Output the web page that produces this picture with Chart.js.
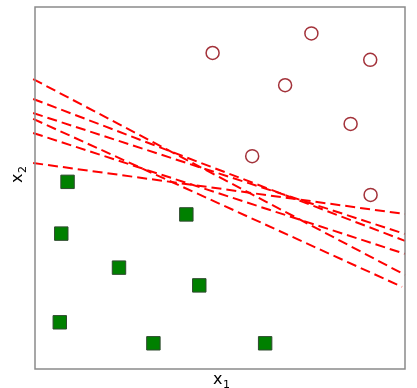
<!DOCTYPE html>
<html>
<head>
<meta charset="utf-8">
<script src="https://cdn.jsdelivr.net/npm/chart.js@4.4.1/dist/chart.umd.min.js"></script>
<style>
  html, body { margin: 0; padding: 0; background: #fff; }
  #wrap { width: 417px; height: 388px; }
</style>
</head>
<body>
<div id="wrap"><canvas id="chart"></canvas></div>
<script>
// class +1 (open circles)
const circleX = [7.47, 4.80, 9.06, 6.76, 8.53, 5.87, 9.07];
const circleY = [9.27, 8.73, 8.54, 7.84, 6.77, 5.88, 4.81];

// class -1 (filled squares)
const squareX = [0.88, 4.09, 0.71, 2.27, 4.44, 0.67, 3.20, 6.22];
const squareY = [5.17, 4.27, 3.74, 2.80, 2.31, 1.29, 0.71, 0.71];

// candidate separating lines, from left edge to right edge
const lineLeftX = [-0.05, -0.05, -0.05, -0.05, -0.05, -0.05];
const lineLeftY = [8.01, 7.46, 7.07, 6.91, 6.52, 5.69];
const lineRightX = [10, 10, 10, 9.92, 10, 10];
const lineRightY = [2.60, 3.54, 3.73, 2.27, 3.18, 4.28];

const xTitle = ["x", "1"];
const yTitle = ["x", "2"];

const lineSets = lineLeftY.map((y0, i) => ({
  type: "line",
  data: [{ x: lineLeftX[i], y: y0 }, { x: lineRightX[i], y: lineRightY[i] }],
  borderColor: "#ff0000",
  borderWidth: 2,
  borderDash: [10, 5],
  pointRadius: 0,
  fill: false,
  clip: false
}));

// frame + axis titles
const framePlugin = {
  id: "frame",
  afterDatasetsDraw(chart) {
    const { ctx, chartArea: a } = chart;
    ctx.save();
    ctx.strokeStyle = "#8a8a8a";
    ctx.lineWidth = 1.5;
    ctx.strokeRect(a.left, a.top, a.right - a.left, a.bottom - a.top);

    ctx.fillStyle = "#000";
    ctx.textBaseline = "alphabetic";
    // x1
    let cx = (a.left + a.right) / 2;
    ctx.font = "16px 'DejaVu Sans'";
    ctx.fillText(xTitle[0], cx - 7, 384);
    ctx.font = "11px 'DejaVu Sans'";
    ctx.fillText(xTitle[1], cx + 3, 388);
    // x2 rotated
    ctx.translate(22, 176);
    ctx.rotate(-Math.PI / 2);
    ctx.font = "16px 'DejaVu Sans'";
    ctx.fillText(yTitle[0], -7, 0);
    ctx.font = "11px 'DejaVu Sans'";
    ctx.fillText(yTitle[1], 3, 4);
    ctx.restore();
  }
};

new Chart(document.getElementById("chart"), {
  type: "scatter",
  data: {
    datasets: [
      ...lineSets,
      {
        data: circleX.map((x, i) => ({ x, y: circleY[i] })),
        pointStyle: "circle",
        pointRadius: 6.5,
        pointBorderWidth: 1.5,
        pointBorderColor: "#a3323a",
        pointBackgroundColor: "rgba(255,255,255,0)"
      },
      {
        data: squareX.map((x, i) => ({ x, y: squareY[i] })),
        pointStyle: "rect",
        pointRadius: 9.5,
        pointBorderWidth: 1,
        pointBorderColor: "#2f4a2f",
        pointBackgroundColor: "#008000"
      }
    ]
  },
  options: {
    responsive: true,
    maintainAspectRatio: false,
    animation: false,
    layout: { autoPadding: false, padding: { left: 35, right: 12, top: 7, bottom: 19 } },
    plugins: { legend: { display: false }, tooltip: { enabled: false } },
    scales: {
      x: { type: "linear", min: 0, max: 10, display: false },
      y: { type: "linear", min: 0, max: 10, display: false }
    }
  },
  plugins: [framePlugin]
});
</script>
</body>
</html>
